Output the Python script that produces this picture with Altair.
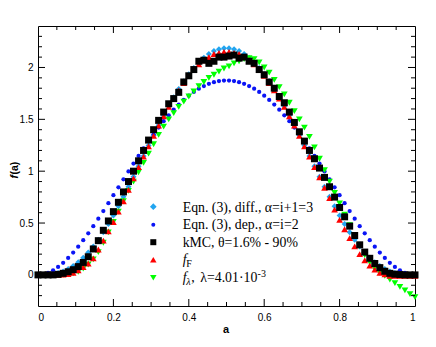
import altair as alt
import pandas as pd

# ---------------- data ----------------
A = [0, 0.0133, 0.0267, 0.04, 0.0533, 0.0667, 0.08, 0.0933, 0.1067, 0.12, 0.1333, 0.1467,
     0.16, 0.1733, 0.1867, 0.2, 0.2133, 0.2267, 0.24, 0.2533, 0.2667, 0.28, 0.2933, 0.3067,
     0.32, 0.3333, 0.3467, 0.36, 0.3733, 0.3867, 0.4, 0.4133, 0.4267, 0.44, 0.4533, 0.4667,
     0.48, 0.4933, 0.5067, 0.52, 0.5333, 0.5467, 0.56, 0.5733, 0.5867, 0.6, 0.6133, 0.6267,
     0.64, 0.6533, 0.6667, 0.68, 0.6933, 0.7067, 0.72, 0.7333, 0.7467, 0.76, 0.7733, 0.7867,
     0.8, 0.8133, 0.8267, 0.84, 0.8533, 0.8667, 0.88, 0.8933, 0.9067, 0.92, 0.9333, 0.9467,
     0.96, 0.9733, 0.9867, 1.0]

EQN_DIFF = [0, 0.0003, 0.0024, 0.0079, 0.018, 0.0337, 0.0558, 0.0848, 0.1211, 0.1649, 0.216,
            0.2745, 0.3399, 0.4119, 0.4899, 0.5734, 0.6617, 0.754, 0.8496, 0.9475, 1.047, 1.1471,
            1.247, 1.3457, 1.4425, 1.5364, 1.6265, 1.7123, 1.7928, 1.8674, 1.9354, 1.9962, 2.0493,
            2.0944, 2.1308, 2.1585, 2.177, 2.1864,
            2.1864, 2.177, 2.1585, 2.1308, 2.0944, 2.0493, 1.9962, 1.9354, 1.8674, 1.7928, 1.7123,
            1.6265, 1.5364, 1.4425, 1.3457, 1.247, 1.1471, 1.047, 0.9475, 0.8496, 0.754, 0.6617,
            0.5734, 0.4899, 0.4119, 0.3399, 0.2745, 0.216, 0.1649, 0.1211, 0.0848, 0.0558, 0.0337,
            0.018, 0.0079, 0.0024, 0.0003, 0]

EQN_DEP = [0, 0.005, 0.020, 0.044, 0.077, 0.116, 0.163, 0.215, 0.272, 0.335, 0.401, 0.470,
           0.542, 0.616, 0.692, 0.768, 0.845, 0.922, 0.998, 1.073, 1.147, 1.219, 1.289, 1.356,
           1.421, 1.482, 1.539, 1.593, 1.642, 1.687, 1.728, 1.764, 1.795, 1.821, 1.843, 1.858,
           1.869, 1.874,
           1.874, 1.869, 1.858, 1.843, 1.821, 1.795, 1.764, 1.728, 1.687, 1.642, 1.593, 1.539,
           1.482, 1.421, 1.356, 1.289, 1.219, 1.147, 1.073, 0.998, 0.922, 0.845, 0.768, 0.692,
           0.616, 0.542, 0.470, 0.401, 0.335, 0.272, 0.215, 0.163, 0.116, 0.077, 0.044, 0.020,
           0.005, 0]

KMC = [0, 0, 0, 0, 0.005, 0.015, 0.03, 0.05, 0.08, 0.12, 0.175, 0.25, 0.33, 0.43, 0.52, 0.61,
       0.70, 0.80, 0.90, 1.00, 1.10, 1.20, 1.30, 1.40, 1.49, 1.57, 1.65, 1.70, 1.76, 1.86, 1.92,
       1.98, 2.06, 2.07, 2.04, 2.06, 2.10, 2.10, 2.11, 2.12, 2.09, 2.10, 2.06, 2.04, 1.98, 1.93,
       1.86, 1.80, 1.72, 1.66, 1.57, 1.47, 1.38, 1.29, 1.20, 1.12, 1.03, 0.94, 0.85, 0.75, 0.65,
       0.56, 0.47, 0.38, 0.29, 0.22, 0.16, 0.11, 0.07, 0.035, 0.015, 0.007, 0.003, 0, 0, 0]

F_F = [0, 0, 0, 0, 0, 0.002, 0.008, 0.02, 0.045, 0.075, 0.11, 0.16, 0.245, 0.33, 0.42, 0.51,
       0.61, 0.71, 0.82, 0.93, 1.04, 1.14, 1.24, 1.34, 1.44, 1.53, 1.62, 1.70, 1.78, 1.85, 1.92,
       1.98, 2.03, 2.07, 2.10, 2.13, 2.14, 2.15, 2.15, 2.14, 2.13, 2.10, 2.07, 2.03, 1.98, 1.92,
       1.85, 1.78, 1.70, 1.62, 1.53, 1.44, 1.34, 1.24, 1.14, 1.04, 0.94, 0.84, 0.74, 0.63, 0.53,
       0.44, 0.355, 0.275, 0.20, 0.14, 0.09, 0.05, 0.02, 0.005, -0.01, -0.01, -0.01, -0.01,
       -0.01, -0.01]

F_LAMBDA = [0, 0, 0, 0, 0, 0, 0.005, 0.015, 0.03, 0.06, 0.10, 0.15, 0.22, 0.31, 0.41, 0.51,
            0.61, 0.71, 0.81, 0.90, 0.99, 1.08, 1.17, 1.26, 1.35, 1.43, 1.50, 1.56, 1.62, 1.67,
            1.72, 1.77, 1.82, 1.86, 1.90, 1.93, 1.96, 1.99, 2.01, 2.04, 2.06, 2.08, 2.09, 2.08,
            2.05, 2.00, 1.95, 1.88, 1.81, 1.74, 1.66, 1.58, 1.50, 1.42, 1.33, 1.23, 1.12, 1.01,
            0.90, 0.79, 0.69, 0.58, 0.48, 0.38, 0.28, 0.19, 0.12, 0.06, 0.02, -0.01, -0.045,
            -0.08, -0.115, -0.15, -0.185, -0.215]

X_LABELS = [0, 0.2, 0.4, 0.6, 0.8, 1]
Y_LABELS = [0, 0.5, 1, 1.5, 2]
X_TICKS_MAJOR = [0.2, 0.4, 0.6, 0.8]
X_TICKS_MINOR = [0.05, 0.1, 0.15, 0.25, 0.3, 0.35, 0.45, 0.5, 0.55, 0.65, 0.7, 0.75,
                 0.85, 0.9, 0.95]
Y_TICKS_MAJOR = [0, 0.5, 1, 1.5, 2]
Y_TICKS_MINOR = [-0.2, -0.1, 0.1, 0.2, 0.3, 0.4, 0.6, 0.7, 0.8, 0.9, 1.1, 1.2, 1.3, 1.4,
                 1.6, 1.7, 1.8, 1.9, 2.1, 2.2, 2.3]

LEGEND_ROW1 = "Eqn. (3), diff., α=i+1=3"
LEGEND_ROW2 = "Eqn. (3), dep., α=i=2"
LEGEND_ROW3 = "kMC, θ=1.6% - 90%"

# ---------------- chart ----------------
W, H = 377, 280
SERIF = "Liberation Serif"
SANS = "Liberation Sans"

xs = alt.Scale(domain=[0, 1], nice=False, zero=False)
ys = alt.Scale(domain=[-0.3, 2.4], nice=False, zero=False)
xaxis = alt.Axis(values=X_LABELS, format="~g", ticks=False, domain=False, grid=False,
                 labelFont=SANS, labelFontSize=10, labelPadding=6, labelColor="black",
                 title=None)
yaxis = alt.Axis(values=Y_LABELS, format="~g", ticks=False, domain=False, grid=False,
                 labelFont=SANS, labelFontSize=10, labelPadding=5, labelColor="black",
                 title=None)
X = alt.X("a:Q", scale=xs, axis=xaxis)
Y = alt.Y("f:Q", scale=ys, axis=yaxis)


def series(vals, shape, color, size):
    df = pd.DataFrame({"a": A, "f": vals})
    return alt.Chart(df).mark_point(shape=shape, filled=True, color=color, size=size,
                                    opacity=1, strokeWidth=0).encode(x=X, y=Y)


def xticks(vals, length, top):
    df = pd.DataFrame({"a": vals})
    y0 = 0 if top else H
    y1 = length if top else H - length
    return alt.Chart(df).mark_rule(color="black", strokeWidth=1).encode(
        x=X, y=alt.value(y0), y2=alt.value(y1))


def yticks(vals, length, right):
    df = pd.DataFrame({"f": vals})
    x0 = W if right else 0
    x1 = W - length if right else length
    return alt.Chart(df).mark_rule(color="black", strokeWidth=1).encode(
        y=Y, x=alt.value(x0), x2=alt.value(x1))


def txt(s, x, y, size=13.8, font=SERIF, style="normal", weight="normal", align="left",
        angle=0, baseline="alphabetic"):
    df = pd.DataFrame({"t": [s]})
    return alt.Chart(df).mark_text(font=font, fontSize=size, fontStyle=style,
                                   fontWeight=weight, align=align, baseline=baseline,
                                   angle=angle, color="black").encode(
        x=alt.value(x), y=alt.value(y), text="t:N")


def sym(shape, color, size, x, y):
    df = pd.DataFrame({"t": [0]})
    return alt.Chart(df).mark_point(shape=shape, filled=True, color=color, size=size,
                                    opacity=1, strokeWidth=0).encode(
        x=alt.value(x), y=alt.value(y))


CYAN, BLUE, BLACK, RED, GREEN = "#22a5f0", "#0a14f5", "#000000", "#ff0000", "#00ff00"

layers = [
    series(EQN_DIFF, "diamond", CYAN, 36),
    series(EQN_DEP, "circle", BLUE, 18),
    series(F_LAMBDA, "triangle-down", GREEN, 45),
    series(F_F, "triangle-up", RED, 45),
    series(KMC, "square", BLACK, 49),
    xticks(X_TICKS_MAJOR, 7, False), xticks(X_TICKS_MINOR, 4, False),
    xticks(X_TICKS_MAJOR, 7, True), xticks(X_TICKS_MINOR, 4, True),
    yticks(Y_TICKS_MAJOR, 7, False), yticks(Y_TICKS_MINOR, 4, False),
    yticks(Y_TICKS_MAJOR, 7, True), yticks(Y_TICKS_MINOR, 4, True),
]

# legend
LX, TX = 115.3, 144.7
rows = [185.7, 203.2, 220.7, 238.2, 255.7]
layers += [
    sym("diamond", CYAN, 45, LX, rows[0] - 5),
    sym("circle", BLUE, 16, LX, rows[1] - 4.5),
    sym("square", BLACK, 36, LX, rows[2] - 4.5),
    sym("triangle-up", RED, 42, LX, rows[3] - 4.5),
    sym("triangle-down", GREEN, 42, LX, rows[4] - 4),
    txt(LEGEND_ROW1, TX, rows[0]),
    txt(LEGEND_ROW2, TX, rows[1]),
    txt(LEGEND_ROW3, TX, rows[2]),
    txt("f", TX, rows[3], style="italic"),
    txt("F", TX + 3.5, rows[3] + 3, size=10),
    txt("f", TX, rows[4], style="italic"),
    txt("λ", TX + 3.5, rows[4] + 3, size=10, style="italic"),
    txt(",", TX + 8.5, rows[4]),
    txt("λ=4.01·10", 219.3, rows[4], align="right"),
    txt("-3", 219.6, rows[4] - 4.5, size=10),
]

# axis titles
layers += [
    txt("a", 188, 306.5, size=11, font=SANS, weight="bold", align="center"),
    txt("f", -23.5, 152.5, size=10.5, font=SANS, weight="bold", style="italic",
        angle=270, baseline="middle"),
    txt("(a)", -23.5, 148.5, size=10.5, font=SANS, weight="bold",
        angle=270, baseline="middle"),
]

chart = alt.layer(*layers).properties(
    width=W, height=H,
    padding={"left": 30, "top": 18, "right": 10, "bottom": 30},
    autosize=alt.AutoSizeParams(type="none"),
).configure_view(stroke="black", strokeWidth=1)

chart.save("out.html", embed_options={"renderer": "svg", "actions": False})
